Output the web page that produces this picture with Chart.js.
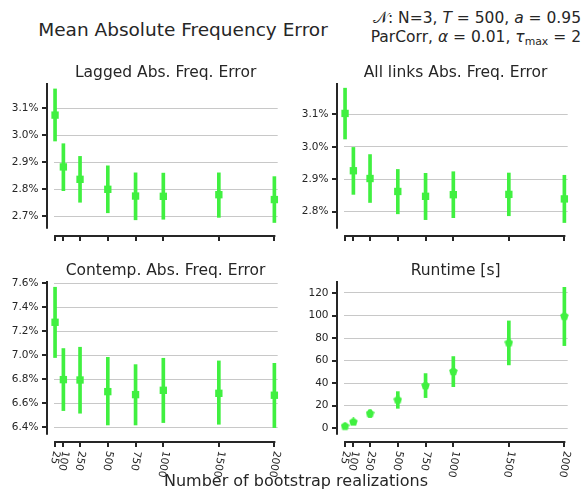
<!DOCTYPE html>
<html>
<head>
<meta charset="utf-8">
<script src="https://cdn.jsdelivr.net/npm/chart.js@4/dist/chart.umd.min.js"></script>
<style>
  body { margin: 0; background: #fff; }
  #fig { position: relative; width: 584px; height: 492px; overflow: hidden;
         font-family: "DejaVu Sans", sans-serif; color: #262626; }
  #fig canvas { position: absolute; }
  .txt { position: absolute; white-space: nowrap; line-height: 1; }
  #suptitle { left: 183px; top: 21px; font-size: 18.5px; transform: translateX(-50%); }
  #params { right: 3px; top: 9px; font-size: 15.5px; line-height: 18.5px; text-align: right; }
  #params sub { font-size: 70%; vertical-align: -0.3em; line-height: 0; }
  #xlabel { left: 296px; top: 473px; font-size: 16px; transform: translateX(-50%); }
</style>
</head>
<body>
<div id="fig">
  <div id="suptitle" class="txt">Mean Absolute Frequency Error</div>
  <div id="params" class="txt">
    <div>𝒩: N=3, <i>T</i> = 500, <i>a</i> = 0.95</div>
    <div>ParCorr, <i>α</i> = 0.01, <i>τ</i><sub>max</sub> = 2</div>
  </div>
  <canvas id="lagged" width="292" height="200" style="left:0;top:50px"></canvas>
  <canvas id="alllinks" width="292" height="200" style="left:292px;top:50px"></canvas>
  <canvas id="contemp" width="292" height="242" style="left:0;top:250px"></canvas>
  <canvas id="runtime" width="292" height="242" style="left:292px;top:250px"></canvas>
  <div id="xlabel" class="txt">Number of bootstrap realizations</div>
</div>
<script>
const realizations = [25, 100, 250, 500, 750, 1000, 1500, 2000];

// lagged links: mean abs. frequency error [%] with error bar ends
const laggedMean = [3.074, 2.882, 2.836, 2.799, 2.774, 2.773, 2.779, 2.761];
const laggedLow  = [2.978, 2.794, 2.751, 2.712, 2.686, 2.688, 2.695, 2.676];
const laggedHigh = [3.171, 2.968, 2.921, 2.886, 2.860, 2.859, 2.860, 2.846];

// all links
const allMean = [3.103, 2.926, 2.902, 2.862, 2.847, 2.852, 2.853, 2.839];
const allLow  = [3.024, 2.853, 2.828, 2.793, 2.775, 2.781, 2.787, 2.766];
const allHigh = [3.181, 2.998, 2.976, 2.930, 2.918, 2.923, 2.919, 2.912];

// contemporaneous links
const contempMean = [7.275, 6.797, 6.794, 6.697, 6.672, 6.708, 6.683, 6.667];
const contempLow  = [6.981, 6.539, 6.517, 6.419, 6.419, 6.439, 6.425, 6.397];
const contempHigh = [7.567, 7.056, 7.067, 6.983, 6.922, 6.975, 6.953, 6.933];

// runtime in seconds
const runtimeMean = [1.8, 5.6, 13.0, 25.1, 37.8, 50.3, 75.7, 99.3];
const runtimeLow  = [1.0, 4.1, 9.5, 17.7, 27.2, 36.9, 56.2, 73.3];
const runtimeHigh = [2.6, 7.1, 16.3, 32.5, 48.5, 63.6, 95.2, 125.0];

const green = '#40f040';
const ink = '#262626';

Chart.defaults.font.family = '"DejaVu Sans", sans-serif';
Chart.defaults.color = ink;

// pentagon marker for the runtime panel
function pentagon(size, color) {
  const c = document.createElement('canvas');
  c.width = c.height = size;
  const g = c.getContext('2d');
  const r = size / 2;
  g.beginPath();
  for (let i = 0; i < 5; i++) {
    const a = -Math.PI / 2 + i * 2 * Math.PI / 5;
    g.lineTo(r + r * Math.cos(a), r + r * Math.sin(a));
  }
  g.closePath();
  g.fillStyle = color;
  g.fill();
  return c;
}

// offset spines, tick marks and the rotated x tick labels
const axesDeco = {
  id: 'axesDeco',
  afterDraw(chart, args, opts) {
    const {ctx, chartArea: a, scales: {x, y}} = chart;
    const off = 7, tick = 5;
    const sx = Math.round(a.left - off), sy = Math.round(a.bottom + off);
    ctx.save();
    ctx.strokeStyle = ink;
    ctx.lineWidth = 2;
    ctx.beginPath();
    ctx.moveTo(sx, a.top);
    ctx.lineTo(sx, a.bottom);
    y.ticks.forEach(t => {
      const py = Math.round(y.getPixelForValue(t.value));
      ctx.moveTo(sx - tick, py);
      ctx.lineTo(sx, py);
    });
    const first = x.getPixelForValue(realizations[0]);
    const last = x.getPixelForValue(realizations[realizations.length - 1]);
    ctx.moveTo(first - 1, sy);
    ctx.lineTo(last + 1, sy);
    realizations.forEach(v => {
      const px = Math.round(x.getPixelForValue(v));
      ctx.moveTo(px, sy);
      ctx.lineTo(px, sy + tick);
    });
    ctx.stroke();

    if (opts.labels) {
      const size = 10.5;
      const ang = 100 * Math.PI / 180;
      ctx.fillStyle = ink;
      ctx.font = size + 'px "DejaVu Sans"';
      ctx.textAlign = 'center';
      ctx.textBaseline = 'middle';
      realizations.forEach(v => {
        const txt = String(v);
        const w = ctx.measureText(txt).width;
        const boxH = w * Math.sin(ang) + size * Math.abs(Math.cos(ang));
        ctx.save();
        ctx.translate(x.getPixelForValue(v), sy + tick + 3 + boxH / 2);
        ctx.rotate(ang);
        ctx.fillText(txt, 0, 0);
        ctx.restore();
      });
    }
    ctx.restore();
  }
};

function panel(id, cfg) {
  const bars = realizations.map((r, i) => ({x: r, y: [cfg.low[i], cfg.high[i]]}));
  const points = realizations.map((r, i) => ({x: r, y: cfg.mean[i]}));
  return new Chart(document.getElementById(id), {
    type: 'scatter',
    data: {
      datasets: [{
        type: 'scatter',
        data: points,
        order: 0,
        clip: false,
        pointStyle: cfg.marker,
        pointRadius: cfg.radius,
        pointHoverRadius: cfg.radius,
        backgroundColor: green,
        borderWidth: 0
      }, {
        type: 'bar',
        data: bars,
        order: 1,
        clip: false,
        barThickness: 3,
        backgroundColor: green,
        borderWidth: 0
      }]
    },
    options: {
      responsive: false,
      animation: false,
      layout: {padding: {left: 0, top: 0, right: cfg.right, bottom: cfg.bottom}},
      plugins: {
        legend: {display: false},
        tooltip: {enabled: false},
        title: {
          display: true,
          text: cfg.title,
          fullSize: false,
          color: ink,
          font: {size: 15.5, weight: 'normal'},
          padding: {top: cfg.titleTop, bottom: cfg.titleBottom}
        },
        axesDeco: {labels: cfg.xLabels}
      },
      scales: {
        x: {type: 'linear', display: false, offset: false, min: 11, max: 2030},
        y: {
          min: cfg.yMin,
          max: cfg.yMax,
          border: {display: false},
          grid: {color: '#c8c8c8', lineWidth: 1, drawTicks: false},
          ticks: {
            stepSize: cfg.step,
            includeBounds: false,
            padding: 15,
            color: ink,
            font: {size: 10.5},
            callback: cfg.format
          },
          afterFit(scale) { scale.width = cfg.yWidth; }
        }
      }
    },
    plugins: [axesDeco]
  });
}

const pct = v => v.toFixed(1) + '%';

panel('lagged', {
  title: 'Lagged Abs. Freq. Error',
  mean: laggedMean, low: laggedLow, high: laggedHigh,
  yMin: 2.653, yMax: 3.193, step: 0.1, format: pct,
  marker: 'rect', radius: 5.2,
  yWidth: 53.5, right: 14.3, bottom: 14,
  titleTop: 13.4, titleBottom: 1, xLabels: false
});

panel('alllinks', {
  title: 'All links Abs. Freq. Error',
  mean: allMean, low: allLow, high: allHigh,
  yMin: 2.747, yMax: 3.197, step: 0.1, format: pct,
  marker: 'rect', radius: 5.2,
  yWidth: 51.5, right: 16.3, bottom: 14,
  titleTop: 13.4, titleBottom: 1, xLabels: false
});

panel('contemp', {
  title: 'Contemp. Abs. Freq. Error',
  mean: contempMean, low: contempLow, high: contempHigh,
  yMin: 6.338, yMax: 7.619, step: 0.2, format: pct,
  marker: 'rect', radius: 5.2,
  yWidth: 53.5, right: 14.3, bottom: 57.3,
  titleTop: 12.1, titleBottom: 0.3, xLabels: true
});

panel('runtime', {
  title: 'Runtime [s]',
  mean: runtimeMean, low: runtimeLow, high: runtimeHigh,
  yMin: -5.7, yMax: 130.6, step: 20, format: v => v.toFixed(0),
  marker: pentagon(9, green), radius: 4.5,
  yWidth: 51.5, right: 16.3, bottom: 57.3,
  titleTop: 12.1, titleBottom: 0.3, xLabels: true
});
</script>
</body>
</html>
